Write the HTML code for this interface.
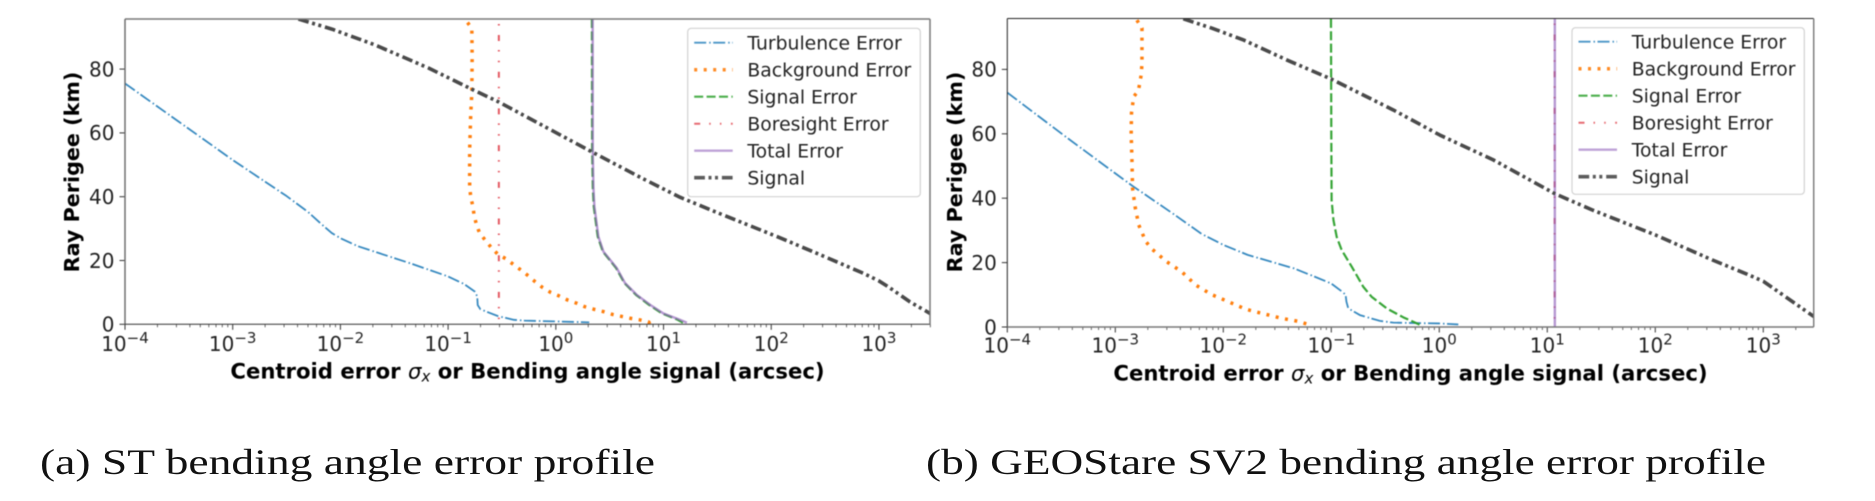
<!DOCTYPE html>
<html>
<head>
<meta charset="utf-8">
<title>Bending angle error profiles</title>
<style>
html,body{margin:0;padding:0;background:#fff;width:1875px;height:501px;overflow:hidden}
svg{display:block}
text{font-family:"DejaVu Sans","Liberation Sans",sans-serif;fill:#222}
.cap{font-family:"Liberation Serif",serif;fill:#111}
</style>
</head>
<body>
<svg id="fig" xmlns="http://www.w3.org/2000/svg" width="1875" height="501" viewBox="0 0 1875 501">
  <g id="panel-a" style="filter:blur(.5px)"></g>
  <g id="panel-b" style="filter:blur(.5px)"></g>
  <text class="cap" x="40" y="474" font-size="35.5" textLength="615" lengthAdjust="spacingAndGlyphs">(a) ST bending angle error profile</text>
  <text class="cap" x="926" y="474" font-size="35.5" textLength="840" lengthAdjust="spacingAndGlyphs">(b) GEOStare SV2 bending angle error profile</text>
</svg>
<script>
// Shared axis data (x ticks are powers of ten, given by exponent)
const xTickExponents = [-4,-3,-2,-1,0,1,2,3];
const xTickLabels = ["\u22124","\u22123","\u22122","\u22121","0","1","2","3"];
const yTicks = [0,20,40,60,80];
const legendLabels = ["Turbulence Error","Background Error","Signal Error","Boresight Error","Total Error","Signal"];

// Panel (a) ST: log10(arcsec) and altitude (km)
const stTurbLog = [-4,-3.5,-3,-2.5,-2.3,-2.17,-2.08,-2,-1.84,-1.64,-1.35,-1,-0.85,-0.75,-0.73,-0.725,-0.70,-0.54,-0.39,-0.29,0,0.31];
const stTurbAlt = [75.5,63.5,51.5,40.2,35.2,31.2,28.6,27,24.5,22.3,19.1,15,12.6,10.2,8.7,6,4.7,2.6,1.4,1.15,0.9,0.6];
const stBackLog = [-0.82,-0.78,-0.777,-0.78,-0.79,-0.80,-0.80,-0.79,-0.77,-0.758,-0.737,-0.709,-0.656,-0.60,-0.54,-0.467,-0.395,-0.324,-0.256,-0.194,-0.126,-0.048,0.03,0.11,0.194,0.27,0.355,0.44,0.526,0.606,0.69,0.777,0.864,0.87];
const stBackAlt = [94.6,92.8,83.9,72.4,66,54.6,43,40,36.9,34,31.3,28.7,26.4,24.1,22,20.6,18.8,17,15.2,13.4,11.6,10,8.9,7.6,6.6,5.5,4.7,4,3.1,2.5,1.9,1.4,0.7,0.1];
const stSigErrLog = [0.335,0.337,0.343,0.352,0.389,0.436,0.56,0.637,0.745,0.865,0.985,1.12,1.18];
const stSigErrAlt = [95.7,54.6,43,36.9,27.5,22.8,17.6,12.9,9.2,6.1,3.4,1.6,0.5];
const stBoreLog = [-0.529,-0.529];
const stBoreAlt = [95.7,0];
const stTotalLog = [0.342,0.343,0.349,0.358,0.395,0.442,0.566,0.643,0.752,0.876,1,1.14,1.217];
const stTotalAlt = [95.7,54.6,43,36.9,27.5,22.8,17.6,12.9,9.2,6.1,3.4,1.6,0.5];
const stSignalLog = [-2.39,-2.076,-1.68,-1.18,-0.768,-0.53,0.343,0.8,1.155,1.5,2.09,2.42,2.855,3,3.085,3.285,3.48];
const stSignalAlt = [95.7,92.5,87.6,80.3,73.5,69.7,53.9,45.8,39.8,35,27,22.3,16,13.6,11.8,7.1,3.3];

// Panel (b) GEOStare SV2: log10(arcsec) and altitude (km)
const geoTurbLog = [-4,-3.46,-3,-2.84,-2.47,-2.2,-2,-1.775,-1.345,-1.167,-1,-0.889,-0.867,-0.86,-0.843,-0.735,-0.55,-0.426,0,0.176];
const geoTurbAlt = [72.8,59.1,47.7,43.8,35.3,28.9,25.5,22.4,18.2,15.8,13.5,10.7,9.9,7.9,5.8,3.7,1.9,1.35,1.1,0.8];
const geoBackLog = [-2.8,-2.753,-2.753,-2.76,-2.786,-2.83,-2.85,-2.853,-2.846,-2.84,-2.816,-2.783,-2.717,-2.657,-2.525,-2.386,-2.32,-2.254,-2.11,-1.956,-1.79,-1.626,-1.46,-1.295,-1.2];
const geoBackAlt = [95.3,92.8,81.9,78.3,73.4,71.5,66.4,60.1,51.9,43,37.2,31.7,26.5,24.1,20.3,17.2,15.1,13,10.1,7.9,5.5,4.1,2.7,1.7,0.6];
const geoSigErrLog = [-1.003,-1,-0.997,-0.98,-0.95,-0.904,-0.81,-0.704,-0.627,-0.488,-0.333,-0.173];
const geoSigErrAlt = [95.7,60,39.4,33.2,28,23.9,18.7,12.5,9.4,5.8,3,0.6];
const geoBoreLog = [1.068,1.068];
const geoBoreAlt = [95.8,0];
const geoTotalLog = [1.07,1.07];
const geoTotalAlt = [95.8,0];
const geoSignalLog = [-2.37,-2.105,-1.81,-1.41,-1,-0.426,0.006,0.5,1.07,1.42,2,2.53,2.85,3,3.15,3.47];
const geoSignalAlt = [95.7,92.8,89.1,82.9,77,67.4,59.6,51.9,41.4,36.3,28.6,20.8,16.4,14.2,10.7,3.2];

const NS = "http://www.w3.org/2000/svg";
const styles = [
  {key:"turbulence-error",color:"#2d84bd",width:1.8,dash:"12 3 1.5 2.5",opacity:.95},
  {key:"background-error",color:"#ff7f0e",width:3.5,dash:"3 6.5",opacity:1},
  {key:"signal-error",color:"#2ca02c",width:2.2,dash:"9 3.4",opacity:.95},
  {key:"boresight-error",color:"#e0454f",width:2,dash:"6 9 1.5 9.2 1.5 9.5",opacity:.9},
  {key:"total-error",color:"#9467bd",width:2.4,dash:"",opacity:.68},
  {key:"signal",color:"#4a4a4a",width:3.6,dash:"10.7 3.6 3 3.5 3 3.9",opacity:1}
];

function el(parent,tag,attrs){
  const e=document.createElementNS(NS,tag);
  for(const k in attrs) e.setAttribute(k,attrs[k]);
  parent.appendChild(e);
  return e;
}

function drawPanel(root,p){
  const xScale=v=>p.left+(v-p.logMin)/(p.logMax-p.logMin)*(p.right-p.left);
  const yScale=v=>p.bottom-v*p.pxPerKm;

  const clipId=p.id+"-clip";
  const defs=el(root,"defs",{});
  const clip=el(defs,"clipPath",{id:clipId});
  el(clip,"rect",{x:p.left,y:p.top,width:p.right-p.left,height:p.bottom-p.top});

  // series
  const plot=el(root,"g",{"clip-path":"url(#"+clipId+")"});
  
  
  p.series.forEach((s,i)=>{
    const st=styles[i];
    const d=s.log.map((v,j)=>(j?"L":"M")+xScale(v).toFixed(2)+" "+yScale(s.alt[j]).toFixed(2)).join(" ");
    const line=el(plot,"path",{d:d,fill:"none",stroke:st.color,"stroke-width":st.width,"stroke-opacity":st.opacity,"stroke-linejoin":"round"});
    if(st.dash) line.setAttribute("stroke-dasharray",st.dash);
    if(i===3) line.setAttribute("stroke-dashoffset",p.boreOffset);
    
    
  });

  // x ticks
  xTickExponents.forEach((e,i)=>{
    const x=xScale(e);
    const tick=el(root,"line",{x1:x,x2:x,y1:p.bottom,y2:p.bottom+5.5,stroke:"#333","stroke-width":1});
    
    
    const t=el(root,"text",{x:x,y:p.tickBase,"text-anchor":"middle","font-size":20});
    
    
    const base=el(t,"tspan",{});
    base.textContent="10";
    const sup=el(t,"tspan",{dy:-8,"font-size":15});
    sup.textContent=xTickLabels[i];
    for(let k=2;k<10;k++){
      const mx=x+Math.log10(k)*(xScale(1)-xScale(0));
      if(mx>p.right+0.5) continue;
      const minor=el(root,"line",{x1:mx,x2:mx,y1:p.bottom,y2:p.bottom+3,stroke:"#444","stroke-width":.8});
      
      
    }
  });

  // y ticks
  yTicks.forEach(v=>{
    const y=yScale(v);
    const tick=el(root,"line",{x1:p.left-5.5,x2:p.left,y1:y,y2:y,stroke:"#333","stroke-width":1});
    
    
    const t=el(root,"text",{x:p.left-10.5,y:y+7.3,"text-anchor":"end","font-size":20});
    t.textContent=String(v);
    
    
  });

  // spines
  p.spines.forEach(s=>{
    const line=el(root,"line",{x1:s[0],y1:s[1],x2:s[2],y2:s[3],stroke:s[4],"stroke-width":s[5]});
    
    
  });

  // axis titles
  const yTitle=el(root,"text",{transform:"translate("+p.yTitleX+" "+p.yTitleY+") rotate(-90)","text-anchor":"middle","font-size":20.7,"font-weight":"bold",style:"fill:#000"});
  yTitle.textContent="Ray Perigee (km)";
  
  

  const xTitle=el(root,"text",{x:(p.left+p.right)/2,y:p.xTitleY,"text-anchor":"middle","font-size":21.2,"font-weight":"bold",style:"fill:#000"});
  
  
  el(xTitle,"tspan",{}).textContent="Centroid error ";
  el(xTitle,"tspan",{"font-style":"italic","font-weight":"normal"}).textContent="\u03C3";
  el(xTitle,"tspan",{"font-style":"italic","font-weight":"normal","font-size":15,dy:3}).textContent="x";
  el(xTitle,"tspan",{dy:-3}).textContent=" or Bending angle signal (arcsec)";

  // legend
  const lg=el(root,"g",{});
  
  
  const box=el(lg,"rect",{x:p.legend.x,y:p.legend.y,width:p.legend.w,height:p.legend.h,rx:3.5,fill:"#fff","fill-opacity":.85,stroke:"#d2d2d2","stroke-width":1.2});
  
  
  legendLabels.forEach((label,i)=>{
    const st=styles[i];
    const y=p.legend.row0+i*27;
    const h=el(lg,"line",{x1:p.legend.x+6.5,x2:p.legend.x+45,y1:y,y2:y,stroke:st.color,"stroke-width":st.width,"stroke-opacity":st.opacity*0.9});
    if(st.dash) h.setAttribute("stroke-dasharray",st.dash);
    
    
    const t=el(lg,"text",{x:p.legend.x+59.7,y:y+6.8,"font-size":18.8});
    t.textContent=label;
    
    
  });
}

drawPanel(document.getElementById("panel-a"),{
  id:"a",left:125,right:930,top:19,bottom:324.3,logMin:-4,logMax:3.474,pxPerKm:3.19,
  boreOffset:20.7,tickBase:351,xTitleY:378.5,yTitleX:79,yTitleY:172,
  spines:[[125,19,930,19,"#777",1.5],[125,19,125,324.3,"#666",1.4],[125,324.3,930,324.3,"#333",1],[930,19,930,324.3,"#777",1.5]],
  legend:{x:687.7,y:28.3,w:232.6,h:168.4,row0:42.7},
  series:[
    {log:stTurbLog,alt:stTurbAlt},{log:stBackLog,alt:stBackAlt},{log:stSigErrLog,alt:stSigErrAlt},
    {log:stBoreLog,alt:stBoreAlt},{log:stTotalLog,alt:stTotalAlt},{log:stSignalLog,alt:stSignalAlt}
  ]
});
drawPanel(document.getElementById("panel-b"),{
  id:"b",left:1007.3,right:1813.7,top:18.5,bottom:327,logMin:-4,logMax:3.467,pxPerKm:3.22,
  boreOffset:20.7,tickBase:352.5,xTitleY:380.5,yTitleX:962,yTitleY:172,
  spines:[[1007.3,18.5,1813.7,18.5,"#222",1],[1007.3,18.5,1007.3,327,"#222",1],[1007.3,327,1813.7,327,"#777",1.5],[1813.7,18.5,1813.7,327,"#777",1.4]],
  legend:{x:1572,y:27.7,w:232.3,h:166.6,row0:41.7},
  series:[
    {log:geoTurbLog,alt:geoTurbAlt},{log:geoBackLog,alt:geoBackAlt},{log:geoSigErrLog,alt:geoSigErrAlt},
    {log:geoBoreLog,alt:geoBoreAlt},{log:geoTotalLog,alt:geoTotalAlt},{log:geoSignalLog,alt:geoSignalAlt}
  ]
});
</script>
</body>
</html>
